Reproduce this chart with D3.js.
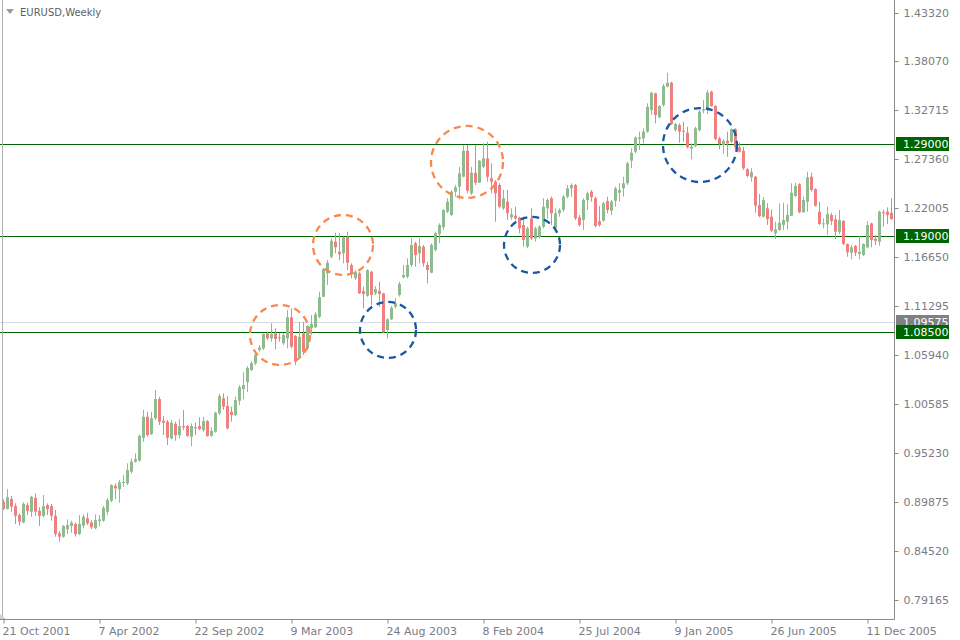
<!DOCTYPE html>
<html><head><meta charset="utf-8">
<script src="https://cdn.jsdelivr.net/npm/d3@7"></script>
<style>html,body{margin:0;padding:0;background:#fff;} svg{display:block;}</style>
</head><body>
<svg id="chart" width="960" height="640"></svg>
<script>
const chartTitle = "EURUSD,Weekly";

const opens = [
0.8990,0.8911,0.9020,0.8943,0.8845,0.8765,0.8954,0.8881,0.9031,0.8892,
0.8837,0.8954,0.8943,0.8837,0.8645,0.8608,0.8689,0.8725,0.8747,0.8637,
0.8728,0.8809,0.8765,0.8700,0.8779,0.8783,0.8881,0.9001,0.9165,0.9126,
0.9198,0.9191,0.9318,0.9428,0.9439,0.9690,0.9919,0.9730,0.9902,1.0113,
0.9876,0.9865,0.9683,0.9840,0.9719,0.9818,0.9818,0.9701,0.9804,0.9818,
0.9774,0.9872,0.9712,0.9756,0.9957,1.0121,1.0036,0.9974,0.9938,1.0094,
1.0222,1.0299,1.0430,1.0503,1.0649,1.0667,1.0831,1.0776,1.0831,1.0787,
1.0722,1.0776,1.1006,1.0802,1.0575,1.0831,1.0667,1.0886,1.0897,1.1012,
1.1231,1.1487,1.1668,1.1832,1.1723,1.1705,1.1887,1.1578,1.1432,1.1487,
1.1293,1.1242,1.1504,1.1268,1.1297,1.1268,1.0867,1.0984,1.1122,1.1250,
1.1443,1.1450,1.1578,1.1815,1.1705,1.1778,1.1578,1.1493,1.1742,1.1916,
1.1990,1.2160,1.2124,1.2379,1.2433,1.2543,1.2827,1.2361,1.2586,1.2477,
1.2652,1.2744,1.2525,1.2488,1.2452,1.2197,1.2270,1.2099,1.2117,1.2095,
1.2015,1.1778,1.2088,1.1869,1.1887,1.1996,1.2197,1.2307,1.1979,1.2143,
1.2179,1.2324,1.2416,1.2452,1.2099,1.2069,1.2288,1.2379,1.2307,1.2058,
1.2062,1.2277,1.2171,1.2280,1.2368,1.2416,1.2471,1.2718,1.2816,1.2955,
1.2962,1.3035,1.3272,1.3454,1.3192,1.3326,1.3526,1.3570,1.3053,1.3108,
1.3045,1.3024,1.2849,1.2878,1.3053,1.3264,1.3279,1.3472,1.3315,1.2962,
1.2889,1.2936,1.2925,1.3061,1.2864,1.2827,1.2624,1.2536,1.2543,1.2233,
1.2106,1.2197,1.2106,1.1924,1.1960,1.2015,1.2051,1.2116,1.2332,1.2460,
1.2154,1.2270,1.2543,1.2408,1.2160,1.2022,1.2022,1.2124,1.2077,1.1942,
1.2058,1.1807,1.1712,1.1785,1.1698,1.1687,1.1771,1.2033,1.1865,1.1833,
1.2154,1.2160,1.2149];
const highs = [
0.9017,0.9129,0.9053,0.8973,0.8864,0.8984,0.8979,0.9056,0.9082,0.8929,
0.9064,0.8973,0.8965,0.8900,0.8670,0.8736,0.8798,0.8783,0.8761,0.8845,
0.8853,0.8870,0.8790,0.8853,0.8845,0.8943,0.9028,0.9181,0.9191,0.9228,
0.9282,0.9410,0.9465,0.9519,0.9719,0.9993,0.9974,0.9974,1.0211,1.0138,
0.9927,0.9883,0.9883,0.9865,0.9894,0.9993,0.9829,0.9847,0.9858,0.9913,
0.9919,0.9883,0.9804,0.9974,1.0168,1.0175,1.0146,1.0029,1.0138,1.0266,
1.0408,1.0474,1.0528,1.0612,1.0703,1.0831,1.0849,1.0940,1.0886,1.0831,
1.0834,1.1086,1.1104,1.0812,1.0958,1.0958,1.0922,1.1031,1.1064,1.1286,
1.1545,1.1632,1.1869,1.1931,1.1924,1.1887,1.1942,1.1596,1.1523,1.1504,
1.1340,1.1531,1.1515,1.1348,1.1395,1.1275,1.0995,1.1129,1.1214,1.1395,
1.1578,1.1651,1.1869,1.1832,1.1869,1.1796,1.1614,1.1815,1.1942,1.2033,
1.2186,1.2307,1.2397,1.2452,1.2652,1.2889,1.2889,1.2649,1.2889,1.2725,
1.2908,1.2925,1.2689,1.2507,1.2471,1.2398,1.2398,1.2197,1.2215,1.2106,
1.2106,1.1996,1.2197,1.1996,1.2015,1.2307,1.2307,1.2324,1.2197,1.2197,
1.2343,1.2452,1.2471,1.2463,1.2124,1.2307,1.2379,1.2398,1.2324,1.2222,
1.2270,1.2324,1.2288,1.2433,1.2471,1.2543,1.2707,1.2853,1.2980,1.3035,
1.3072,1.3345,1.3472,1.3461,1.3326,1.3556,1.3679,1.3581,1.3133,1.3126,
1.3144,1.3089,1.2908,1.3089,1.3272,1.3381,1.3490,1.3483,1.3326,1.2980,
1.2951,1.3035,1.3072,1.3072,1.2914,1.2871,1.2635,1.2635,1.2550,1.2354,
1.2321,1.2252,1.2186,1.2051,1.2252,1.2259,1.2244,1.2471,1.2477,1.2471,
1.2324,1.2597,1.2586,1.2416,1.2270,1.2088,1.2215,1.2149,1.2124,1.2179,
1.2070,1.1815,1.1796,1.1796,1.1895,1.1815,1.2058,1.2040,1.1905,1.2171,
1.2186,1.2208,1.2307];
const lows = [
0.8900,0.8905,0.8881,0.8747,0.8728,0.8754,0.8845,0.8826,0.8834,0.8725,
0.8820,0.8845,0.8783,0.8608,0.8553,0.8597,0.8637,0.8652,0.8608,0.8626,
0.8700,0.8736,0.8689,0.8692,0.8725,0.8772,0.8845,0.8984,0.9020,0.8979,
0.9154,0.9173,0.9301,0.9417,0.9428,0.9646,0.9701,0.9719,0.9883,0.9829,
0.9719,0.9610,0.9672,0.9657,0.9683,0.9774,0.9701,0.9599,0.9719,0.9774,
0.9756,0.9701,0.9701,0.9745,0.9938,0.9993,0.9782,0.9865,0.9927,1.0047,
1.0110,1.0189,1.0419,1.0485,1.0630,1.0649,1.0758,1.0739,1.0656,1.0739,
1.0703,1.0667,1.0667,1.0485,1.0558,1.0594,1.0649,1.0812,1.0890,1.0995,
1.1228,1.1359,1.1651,1.1705,1.1632,1.1596,1.1523,1.1432,1.1414,1.1261,
1.1104,1.1231,1.1140,1.1250,1.1122,1.0831,1.0776,1.0977,1.1104,1.1231,
1.1432,1.1432,1.1559,1.1559,1.1596,1.1559,1.1378,1.1487,1.1723,1.1815,
1.1960,1.2143,1.2113,1.2324,1.2296,1.2536,1.2361,1.2343,1.2452,1.2474,
1.2635,1.2488,1.2361,1.2051,1.2197,1.2179,1.2070,1.2070,1.2070,1.1924,
1.1778,1.1761,1.1851,1.1833,1.1869,1.1979,1.2088,1.2015,1.1960,1.2106,
1.2160,1.2307,1.2324,1.2070,1.1996,1.1960,1.2179,1.2269,1.1990,1.1996,
1.2051,1.2143,1.2124,1.2215,1.2270,1.2324,1.2452,1.2635,1.2798,1.2835,
1.2908,1.3024,1.3217,1.3126,1.3184,1.3308,1.3519,1.3108,1.3035,1.2914,
1.2925,1.2853,1.2733,1.2864,1.3035,1.3236,1.3228,1.3308,1.2944,1.2842,
1.2791,1.2761,1.2911,1.2842,1.2805,1.2616,1.2536,1.2488,1.2149,1.2099,
1.2099,1.2015,1.1935,1.1862,1.1952,1.1960,1.1968,1.2113,1.2324,1.2143,
1.2149,1.2160,1.2379,1.2215,1.2015,1.1979,1.1905,1.2015,1.1862,1.1916,
1.1796,1.1668,1.1640,1.1676,1.1640,1.1676,1.1760,1.1771,1.1796,1.1789,
1.1996,1.2026,1.2070];
const closes = [
0.8911,0.9038,0.8936,0.8837,0.8772,0.8965,0.8892,0.9045,0.8881,0.8837,
0.8943,0.8911,0.8837,0.8637,0.8608,0.8725,0.8736,0.8761,0.8637,0.8747,
0.8826,0.8754,0.8711,0.8790,0.8798,0.8925,0.9009,0.9173,0.9137,0.9202,
0.9206,0.9337,0.9428,0.9457,0.9712,0.9919,0.9719,0.9902,1.0113,0.9865,
0.9854,0.9690,0.9854,0.9719,0.9818,0.9804,0.9709,0.9818,0.9793,0.9785,
0.9872,0.9709,0.9763,0.9963,1.0146,1.0029,0.9793,0.9938,1.0102,1.0241,
1.0266,1.0452,1.0506,1.0594,1.0674,1.0823,1.0776,1.0823,1.0769,1.0776,
1.0812,1.1006,1.0685,1.0521,1.0794,1.0630,1.0911,1.0933,1.1039,1.1225,
1.1534,1.1603,1.1843,1.1771,1.1695,1.1880,1.1603,1.1487,1.1504,1.1268,
1.1261,1.1523,1.1250,1.1315,1.1261,1.0848,1.0984,1.1111,1.1159,1.1370,
1.1468,1.1578,1.1796,1.1687,1.1785,1.1596,1.1523,1.1796,1.1924,1.2015,
1.2179,1.2269,1.2379,1.2427,1.2580,1.2827,1.2390,1.2586,1.2477,1.2718,
1.2744,1.2543,1.2488,1.2361,1.2215,1.2307,1.2143,1.2132,1.2088,1.1979,
1.1851,1.1979,1.1869,1.1979,1.1996,1.2215,1.2288,1.2143,1.2143,1.2179,
1.2324,1.2416,1.2452,1.2088,1.2015,1.2288,1.2361,1.2318,1.2004,1.2015,
1.2252,1.2179,1.2270,1.2416,1.2398,1.2471,1.2689,1.2805,1.2973,1.2973,
1.3035,1.3308,1.3461,1.3217,1.3315,1.3534,1.3570,1.3119,1.3119,1.3035,
1.3035,1.2864,1.2871,1.3072,1.3253,1.3279,1.3461,1.3315,1.2955,1.2900,
1.2936,1.2908,1.3061,1.2864,1.2816,1.2635,1.2550,1.2591,1.2226,1.2113,
1.2288,1.2080,1.1952,1.1968,1.2040,1.2070,1.2124,1.2368,1.2441,1.2154,
1.2288,1.2536,1.2398,1.2226,1.2026,1.2033,1.2135,1.2058,1.1942,1.2070,
1.1807,1.1716,1.1771,1.1712,1.1720,1.1807,1.2015,1.1851,1.1843,1.2160,
1.2143,1.2124,1.2080];

const dateTickLabels = ["21 Oct 2001","7 Apr 2002","22 Sep 2002","9 Mar 2003","24 Aug 2003","8 Feb 2004","25 Jul 2004","9 Jan 2005","26 Jun 2005","11 Dec 2005"];
const weeksPerDateTick = 24;
const priceTicks = [1.43320,1.38070,1.32715,1.27360,1.22005,1.16650,1.11295,1.05940,1.00585,0.95230,0.89875,0.84520,0.79165];
const levelPrices = [1.29000, 1.19000, 1.08500];
const bidPrice = 1.09575;
// annotation circles: week index of centre, price of centre
const resistanceWeeks = [69.25, 85, 116];
const resistancePrices = [1.0813, 1.1797, 1.2704];
const supportWeeks = [96.25, 132.25, 174.25];
const supportPrices = [1.0868, 1.1797, 1.2889];

// ---- layout ----
const W = 960, H = 640;
const plotRight = 894, plotBottom = 619;
const svg = d3.select("#chart");
svg.append("rect").attr("width", W).attr("height", H).attr("fill", "#ffffff");

const n = opens.length;
const x = d3.scaleLinear().domain([0, 223]).range([3, 895]);
const y = d3.scaleLinear().domain([0.79165, 1.43320]).range([600, 13]);

const green = "#8fbc8f", red = "#f08080";
const font = "DejaVu Sans, Verdana, sans-serif";

const candles = d3.range(n).map(i => ({i, o: opens[i], h: highs[i], l: lows[i], c: closes[i]}));

// bid line (light grey)
svg.append("line").attr("x1", 0).attr("x2", plotRight)
  .attr("y1", Math.round(y(bidPrice)) + 0.5).attr("y2", Math.round(y(bidPrice)) + 0.5)
  .attr("stroke", "#d9d9e0").attr("stroke-width", 1);

// level lines
svg.append("g").selectAll("line").data(levelPrices).join("line")
  .attr("x1", 0).attr("x2", plotRight)
  .attr("y1", d => Math.round(y(d)) + 0.5).attr("y2", d => Math.round(y(d)) + 0.5)
  .attr("stroke", "#006400").attr("stroke-width", 1);

// candles
const cg = svg.append("g");
cg.selectAll("line.wick").data(candles).join("line").attr("class", "wick")
  .attr("x1", d => Math.round(x(d.i)) + 0.5).attr("x2", d => Math.round(x(d.i)) + 0.5)
  .attr("y1", d => y(d.h)).attr("y2", d => y(d.l))
  .attr("stroke", d => d.c >= d.o ? green : red).attr("stroke-width", 1);
cg.selectAll("rect.body").data(candles).join("rect").attr("class", "body")
  .attr("x", d => Math.round(x(d.i)) - 1).attr("width", 3)
  .attr("y", d => y(Math.max(d.o, d.c)))
  .attr("height", d => Math.max(1, Math.abs(y(d.o) - y(d.c))))
  .attr("fill", d => d.c >= d.o ? green : red);

// circles
const circ = svg.append("g").attr("fill", "none").attr("stroke-width", 2.3).attr("stroke-dasharray", "7,5");
const resR = [30, 30, 36], supR = [28, 28, 37];
circ.selectAll("circle.res").data(resistanceWeeks).join("circle").attr("class", "res")
  .attr("cx", (d, k) => x(d)).attr("cy", (d, k) => y(resistancePrices[k])).attr("r", (d, k) => resR[k])
  .attr("stroke", "#f9884f");
circ.selectAll("circle.sup").data(supportWeeks).join("circle").attr("class", "sup")
  .attr("cx", (d, k) => x(d)).attr("cy", (d, k) => y(supportPrices[k])).attr("r", (d, k) => supR[k])
  .attr("stroke", "#1a57a3");

// frame
const axisGrey = "#8a8a8a";
svg.append("line").attr("x1", 2.5).attr("x2", 2.5).attr("y1", 0).attr("y2", plotBottom).attr("stroke", "#b0b0b0");
svg.append("line").attr("x1", plotRight + 0.5).attr("x2", plotRight + 0.5).attr("y1", 0).attr("y2", plotBottom + 0.5).attr("stroke", axisGrey);
svg.append("line").attr("x1", 0).attr("x2", plotRight + 0.5).attr("y1", plotBottom + 0.5).attr("y2", plotBottom + 0.5).attr("stroke", axisGrey);
svg.append("path").attr("d", `M0,${plotBottom-5}L6,${plotBottom}L0,${plotBottom}Z`).attr("fill", "#d0d0d0");

// right axis
const yAxis = d3.axisRight(y).tickValues(priceTicks).tickSize(4).tickPadding(5).tickFormat(d3.format(".5f"));
const ya = svg.append("g").attr("transform", `translate(${plotRight + 0.5},0)`).call(yAxis);
ya.select(".domain").remove();
ya.selectAll("line").attr("stroke", axisGrey);
ya.selectAll("text").attr("fill", "#7b7b85").attr("font-family", font).attr("font-size", 11);

// bottom axis
const tickIdx = dateTickLabels.map((d, k) => k * weeksPerDateTick);
const xAxis = d3.axisBottom(x).tickValues(tickIdx).tickSize(4).tickFormat((d, k) => dateTickLabels[k]);
const xa = svg.append("g").attr("transform", `translate(0,${plotBottom + 0.5})`).call(xAxis);
xa.select(".domain").remove();
xa.selectAll(".tick line").attr("stroke", axisGrey).attr("transform", "translate(0.5,0)");
xa.selectAll("text").attr("fill", "#7b7b85").attr("font-family", font).attr("font-size", 11)
  .attr("text-anchor", "start").attr("x", -1).attr("y", 8);

// price labels (bid + levels)
function priceTag(p, fill) {
  const g = svg.append("g").attr("transform", `translate(${plotRight + 2},${Math.round(y(p))})`);
  g.append("rect").attr("x", 0).attr("y", -7).attr("width", 53).attr("height", 14).attr("fill", fill);
  g.append("text").attr("x", 7).attr("y", 0).attr("dy", "0.36em").attr("fill", "#ffffff")
    .attr("font-family", font).attr("font-size", 11).text(d3.format(".5f")(p));
}
priceTag(bidPrice, "#808080");
levelPrices.forEach(p => priceTag(p, "#006400"));

// title
svg.append("path").attr("d", "M6,9L14,9L10,14Z").attr("fill", "#9a9a9a");
svg.append("text").attr("x", 20).attr("y", 16).attr("fill", "#5f5f5f")
  .attr("font-family", font).attr("font-size", 10).text(chartTitle);
</script>
</body></html>
